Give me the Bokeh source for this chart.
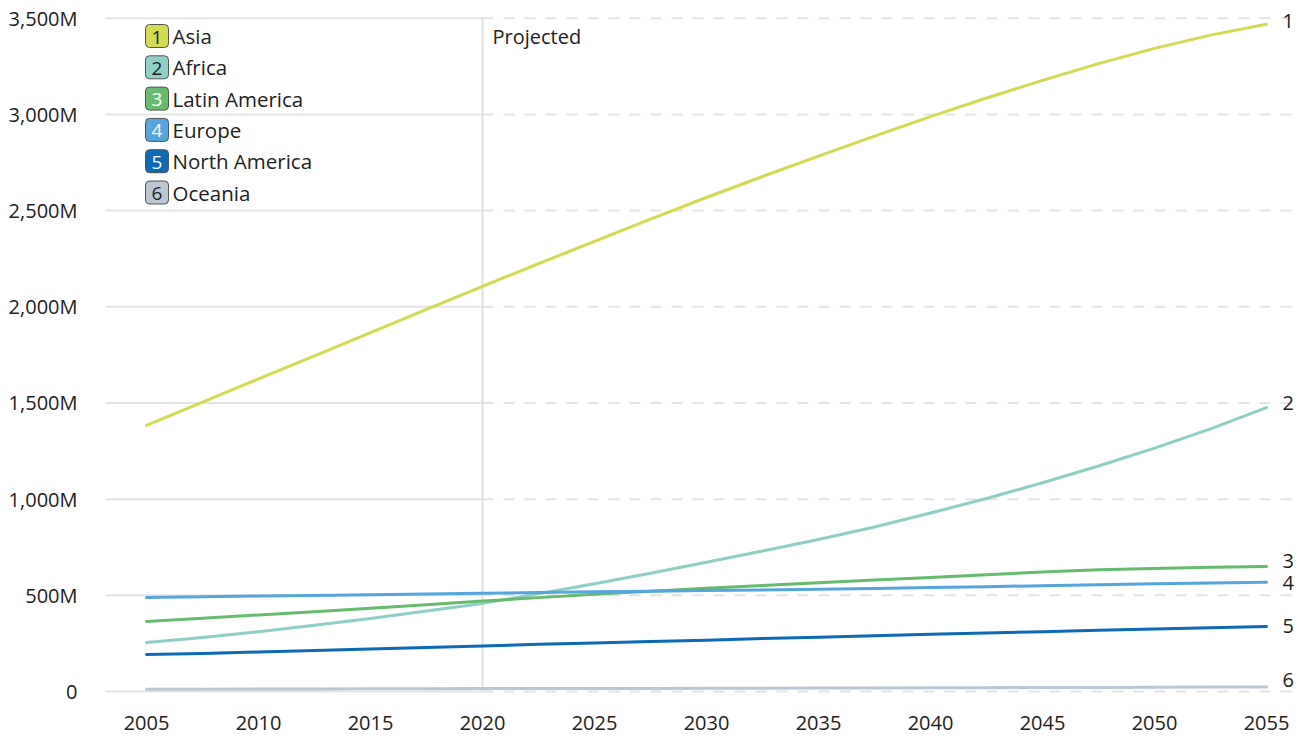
from bokeh.plotting import figure
from bokeh.models import Range1d, FixedTicker, CustomJSTickFormatter
from bokeh.core.properties import value
from bokeh.embed import file_html
from bokeh.resources import INLINE

# ---------------- data ----------------
years = [2005, 2007.5, 2010, 2012.5, 2015, 2017.5, 2020, 2022.5, 2025, 2027.5, 2030,
         2032.5, 2035, 2037.5, 2040, 2042.5, 2045, 2047.5, 2050, 2052.5, 2055]
asia = [1383, 1504, 1625, 1745, 1866, 1986, 2106, 2224, 2340, 2455, 2568,
        2677, 2783, 2887, 2988, 3085, 3177, 3264, 3343, 3412, 3469]
africa = [255, 281, 310, 344, 380, 418, 458, 508, 560, 615, 672,
          730, 790, 855, 928, 1003, 1085, 1172, 1265, 1365, 1476]
latin_america = [364, 381, 398, 415, 433, 451, 470, 488, 505, 521, 537,
                 551, 565, 579, 592, 607, 621, 633, 640, 646, 650]
europe = [489, 492, 496, 499, 503, 507, 511, 514, 518, 521, 525,
          528, 531, 535, 540, 545, 550, 555, 560, 564, 568]
north_america = [192, 198, 205, 213, 221, 229, 237, 245, 252, 260, 267,
                 275, 282, 290, 297, 304, 311, 318, 325, 332, 338]
oceania = [12, 12, 13, 13, 14, 14, 15, 15, 16, 16, 17,
           17, 18, 18, 19, 20, 21, 21, 22, 23, 24]

regions = ["Asia", "Africa", "Latin America", "Europe", "North America", "Oceania"]
series = [asia, africa, latin_america, europe, north_america, oceania]
line_colors = ["#d2db52", "#8fcfc4", "#66bb6e", "#56a5dc", "#0e6ab4", "#bcc7d3"]
badge_text_colors = ["#222222", "#222222", "#ffffff", "#ffffff", "#ffffff", "#222222"]
end_label_dy = [-3, -5, -5, 1, 0, -7]   # screen px nudges for end labels

y_ticks = [0, 500, 1000, 1500, 2000, 2500, 3000, 3500]
x_ticks = [2005, 2010, 2015, 2020, 2025, 2030, 2035, 2040, 2045, 2050, 2055]
projection_start = 2020
projection_label = "Projected"

# ---------------- geometry ----------------
W, H = 1308, 738
FRAME_L, FRAME_R, FRAME_T, FRAME_B = 100, 1300, 10, 700   # canvas px
PX_PER_YEAR = 22.4
PX_PER_M = 673.3 / 3500.0
x_start = 2005 - (146 - FRAME_L) / PX_PER_YEAR
x_end = x_start + (FRAME_R - FRAME_L) / PX_PER_YEAR
y_start = -(FRAME_B - 691) / PX_PER_M
y_end = y_start + (FRAME_B - FRAME_T) / PX_PER_M


def sx(px):
    return x_start + (px - FRAME_L) / PX_PER_YEAR


def sy(py):
    return y_start + (FRAME_B - py) / PX_PER_M


FONT = value("Open Sans")
TXT = "#222222"
FS = "20px"

p = figure(width=W, height=H, output_backend="svg", toolbar_location=None,
           x_range=Range1d(x_start, x_end), y_range=Range1d(y_start, y_end),
           min_border_left=FRAME_L, min_border_right=W - FRAME_R,
           min_border_top=FRAME_T, min_border_bottom=H - FRAME_B,
           title=None)
p.outline_line_color = None
p.background_fill_color = "white"
p.border_fill_color = "white"
p.xgrid.visible = False
p.ygrid.visible = False

for ax in (p.xaxis[0], p.yaxis[0]):
    ax.axis_line_color = None
    ax.major_tick_line_color = None
    ax.minor_tick_line_color = None
    ax.major_label_text_font = "Open Sans"
    ax.major_label_text_font_size = FS
    ax.major_label_text_color = TXT

p.xaxis.ticker = FixedTicker(ticks=x_ticks)
p.yaxis.ticker = FixedTicker(ticks=y_ticks)
p.yaxis.formatter = CustomJSTickFormatter(
    code="return tick == 0 ? '0' : tick.toLocaleString('en-US') + 'M';")
p.yaxis.major_label_standoff = 17
p.xaxis.major_label_standoff = 9

# gridlines: solid before projection, dashed after
grid_x0 = sx(105)
grid_color = "#e4e4e4"
p.segment(x0=[grid_x0] * len(y_ticks), x1=[projection_start] * len(y_ticks),
          y0=y_ticks, y1=y_ticks, line_color=grid_color, line_width=2)
p.segment(x0=[projection_start] * len(y_ticks), x1=[x_end] * len(y_ticks),
          y0=y_ticks, y1=y_ticks, line_color=grid_color, line_width=2,
          line_dash="11 10")
# vertical projection marker
p.segment(x0=[projection_start], x1=[projection_start], y0=[0], y1=[y_ticks[-1]],
          line_color="#e0e0e0", line_width=2)
p.text(x=[projection_start], y=[sy(36)], text=[projection_label], x_offset=10,
       text_font=FONT, text_font_size=FS, text_color=TXT,
       text_baseline="middle", text_align="left")

# series
for vals, col in zip(series, line_colors):
    p.line(years, vals, line_color=col, line_width=3, line_cap="round",
           line_join="round")

# end labels
for i, vals in enumerate(series):
    p.text(x=[years[-1]], y=[vals[-1]], text=[str(i + 1)], x_offset=16,
           y_offset=end_label_dy[i], text_font=FONT, text_font_size=FS,
           text_color=TXT, text_baseline="middle", text_align="left")

# legend with numbered badges
for i, name in enumerate(regions):
    cy = sy(35.5 + i * 31.3)
    p.rect(x=[sx(156.5)], y=[cy], width=23, height=23, width_units="screen",
           height_units="screen", fill_color=line_colors[i], line_color="#555555",
           line_width=1, border_radius=4)
    p.text(x=[sx(156.5)], y=[cy], text=[str(i + 1)], text_font=FONT,
           text_font_size="19px", text_color=badge_text_colors[i],
           text_baseline="middle", text_align="center", y_offset=1)
    p.text(x=[sx(172)], y=[cy], text=[name], text_font=FONT,
           text_font_size="20.5px", text_color=TXT, text_baseline="middle",
           text_align="left", y_offset=0)

open("out.html", "w").write(file_html(p, INLINE))
